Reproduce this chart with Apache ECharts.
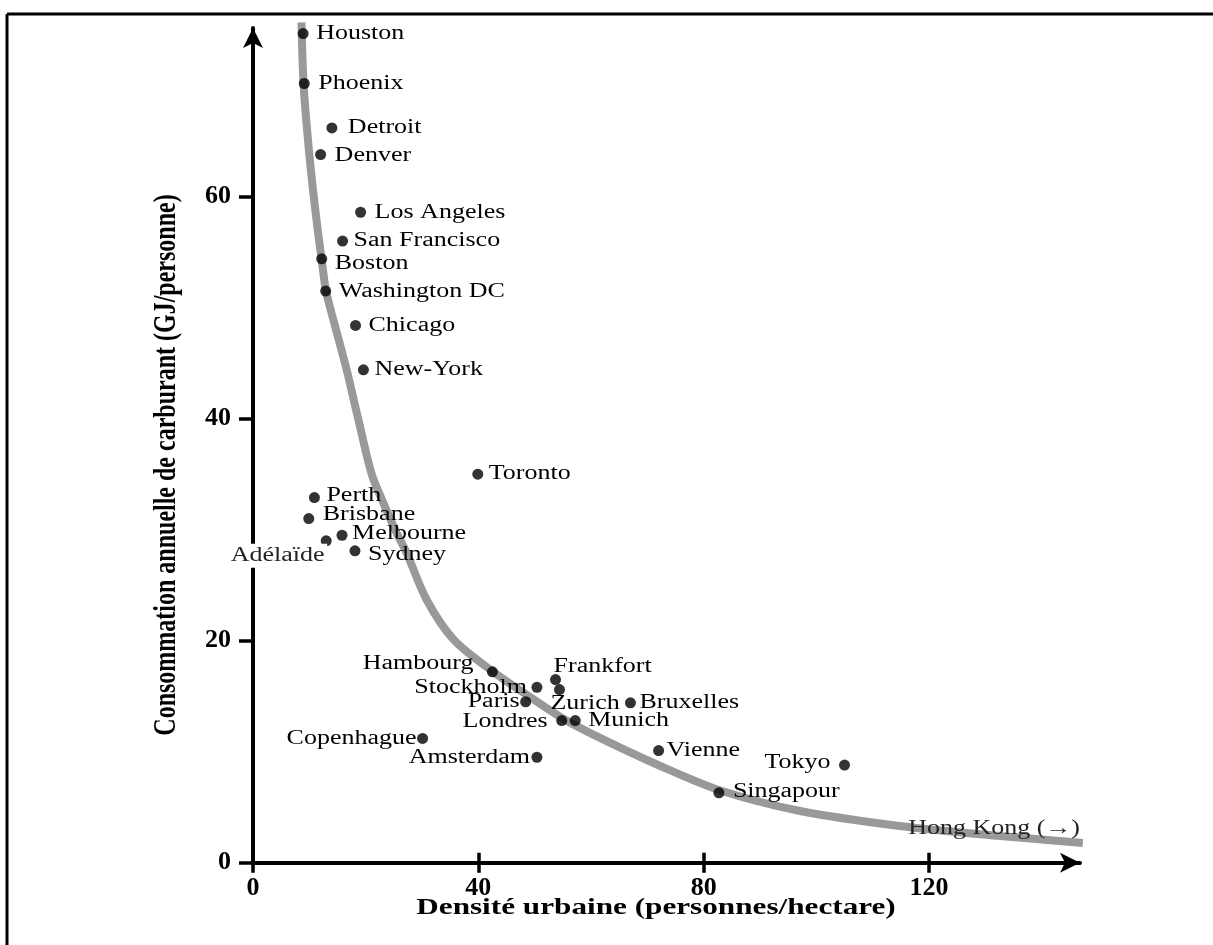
<!DOCTYPE html>
<html>
<head>
<meta charset="utf-8">
<title>Densité urbaine et consommation de carburant</title>
<script src="https://cdn.jsdelivr.net/npm/echarts@6/dist/echarts.min.js"></script>
<style>
    html,body{margin:0;padding:0;background:#fff;}
    #main{width:1213px;height:945px;}
</style>
</head>
<body>
<div id="main"></div>
<script>
// villes, densité (personnes/hectare), consommation (GJ/personne)
var cities = ['Houston','Phoenix','Detroit','Denver','Los Angeles','San Francisco','Boston','Washington DC',
    'Chicago','New-York','Toronto','Perth','Brisbane','Melbourne','Adélaïde','Sydney',
    'Hambourg','Frankfort','Stockholm','Zurich','Paris','Bruxelles','Londres','Munich',
    'Copenhague','Amsterdam','Vienne','Tokyo','Singapour'];
var density = [8.9, 9.1, 14.0, 12.0, 19.1, 15.9, 12.2, 12.9,
    18.2, 19.6, 39.9, 10.9, 9.9, 15.8, 13.0, 18.1,
    42.5, 53.7, 50.4, 54.4, 48.4, 67.0, 54.8, 57.2,
    30.1, 50.4, 72.0, 105.0, 82.7];
var fuel = [74.7, 70.2, 66.2, 63.8, 58.6, 56.0, 54.4, 51.5,
    48.4, 44.4, 35.0, 32.9, 31.0, 29.5, 29.0, 28.1,
    17.2, 16.5, 15.8, 15.6, 14.5, 14.4, 12.8, 12.8,
    11.2, 9.5, 10.1, 8.8, 6.3];

// courbe de tendance grise
var curveX = [8.61, 8.97, 9.76, 10.65, 11.54, 12.25, 12.96, 14.56, 16.63, 18.64, 21.07, 22.9,
    25.51, 27.29, 30.84, 35.68, 42.43, 48.64, 54.86, 61.6, 71.9, 82.7, 97.1, 114.8, 132.6, 147.3];
var curveY = [75.7, 70.2, 65.1, 60.6, 56.8, 54.1, 51.5, 48.35, 44.4, 40.06, 35.0, 32.7,
    29.7, 27.9, 23.67, 20.06, 17.27, 15.11, 13.04, 11.24, 8.8, 6.55, 4.66, 3.31, 2.41, 1.78];

var xTicks = [0, 40, 80, 120];
var yTicks = [0, 20, 40, 60];
var hongKong = {text: 'Hong Kong (\u2192)', x: 146.8, y: 3.1};

var xTitle = 'Densité urbaine (personnes/hectare)';
var yTitle = 'Consommation annuelle de carburant (GJ/personne)';

// placement des étiquettes : [alignement, dx, dy] en pixels depuis le point
var labelLayout = {
    'Houston':['left',13,0], 'Phoenix':['left',14,0], 'Detroit':['left',16,0], 'Denver':['left',14,1],
    'Los Angeles':['left',14,0], 'San Francisco':['left',11,0], 'Boston':['left',13,5],
    'Washington DC':['left',13,1], 'Chicago':['left',13,0], 'New-York':['left',11,0],
    'Toronto':['left',11,0], 'Perth':['left',12,-2], 'Brisbane':['left',14,-4],
    'Melbourne':['left',10,-2], 'Adélaïde':['right',1,15], 'Sydney':['left',13,4],
    'Hambourg':['right',-19,-8], 'Frankfort':['left',-2,-13], 'Stockholm':['right',-10,0],
    'Zurich':['left',-9,14], 'Paris':['right',-6,0], 'Bruxelles':['left',9,0],
    'Londres':['right',-14,1], 'Munich':['left',13,0], 'Copenhague':['right',-6,0],
    'Amsterdam':['right',-7,0], 'Vienne':['left',8,0], 'Tokyo':['right',-14,-2],
    'Singapour':['left',14,-1]
};

var serif = '"Liberation Serif","Times New Roman",serif';

var chart = echarts.init(document.getElementById('main'), null, {renderer:'canvas'});

var points = density.map(function (d, i) { return [d, fuel[i]]; });
var curve = curveX.map(function (x, i) { return [x, curveY[i]]; });

function axisLine(){
    return {show:true, symbol:['none','arrow'], symbolSize:[15,20],
        lineStyle:{color:'#000', width:4}};
}

var option = {
    backgroundColor:'#fff',
    animation:false,
    grid:{left:253, right:133, top:28, bottom:82.3},
    xAxis:[{
        type:'value', min:0, max:146.8, interval:40,
        axisLine:axisLine(),
        axisTick:{show:true, customValues:xTicks, length:10, lineStyle:{color:'#000', width:3.5}},
        axisLabel:{customValues:xTicks, margin:13, color:'#000',
            fontFamily:serif, fontWeight:'bold', fontSize:26},
        splitLine:{show:false}
    },{
        type:'value', min:0, max:146.8, interval:40, position:'bottom',
        axisLine:{show:false},
        axisTick:{show:true, inside:true, customValues:xTicks, length:10, lineStyle:{color:'#000', width:3.5}},
        axisLabel:{show:false},
        splitLine:{show:false}
    }],
    yAxis:{
        type:'value', min:0, max:75.2, interval:20,
        axisLine:axisLine(),
        axisTick:{show:true, customValues:yTicks, length:14, lineStyle:{color:'#000', width:3.5}},
        axisLabel:{customValues:yTicks, margin:22, color:'#000',
            fontFamily:serif, fontWeight:'bold', fontSize:26},
        splitLine:{show:false}
    },
    series:[{
        type:'line',
        data:curve,
        smooth:0.3,
        showSymbol:false,
        clip:false,
        z:1,
        lineStyle:{color:'#999999', width:8},
        silent:true
    },{
        type:'scatter',
        data:points,
        symbolSize:11,
        clip:false,
        z:3,
        itemStyle:{color:'#000'}
    }]
};

chart.setOption(option);

// cadre, titres et étiquettes des villes
var graphics = [
    {type:'line', shape:{x1:7, y1:14, x2:1213, y2:14}, style:{stroke:'#000', lineWidth:3}},
    {type:'line', shape:{x1:7, y1:14, x2:7, y2:945}, style:{stroke:'#000', lineWidth:3}},
    {type:'text', x:656, y:908, scaleX:1.3, style:{text:xTitle, font:'bold 24px ' + serif, fill:'#000',
        align:'center', verticalAlign:'middle', textAlign:'center', textVerticalAlign:'middle'}},
    {type:'text', x:167, y:465, rotation:Math.PI / 2, scaleY:1.3, style:{text:yTitle, font:'bold 24px ' + serif, fill:'#000',
        align:'center', verticalAlign:'middle', textAlign:'center', textVerticalAlign:'middle'}}
];

cities.forEach(function (name, i) {
    var p = chart.convertToPixel({gridIndex:0}, [density[i], fuel[i]]);
    var lay = labelLayout[name];
    var st = {text:name, font:'20px ' + serif, fill:'#000',
        align:lay[0], verticalAlign:'middle', textAlign:lay[0], textVerticalAlign:'middle'};
    if(name === 'Adélaïde'){
        st.fill = '#222';
        st.backgroundColor = '#fff';
        st.padding = [1, 2, 3, 4];
    }
    graphics.push({type:'text', x:p[0] + lay[1], y:p[1] + lay[2], scaleX:1.3, z:10, style:st});
});

var hk = chart.convertToPixel({gridIndex:0}, [hongKong.x, hongKong.y]);
graphics.push({type:'text', x:hk[0], y:hk[1], scaleX:1.3, z:10,
    style:{text:hongKong.text, font:'20px ' + serif, fill:'#222',
        align:'right', verticalAlign:'middle', textAlign:'right', textVerticalAlign:'middle'}});

chart.setOption({graphic:graphics});
</script>
</body>
</html>
